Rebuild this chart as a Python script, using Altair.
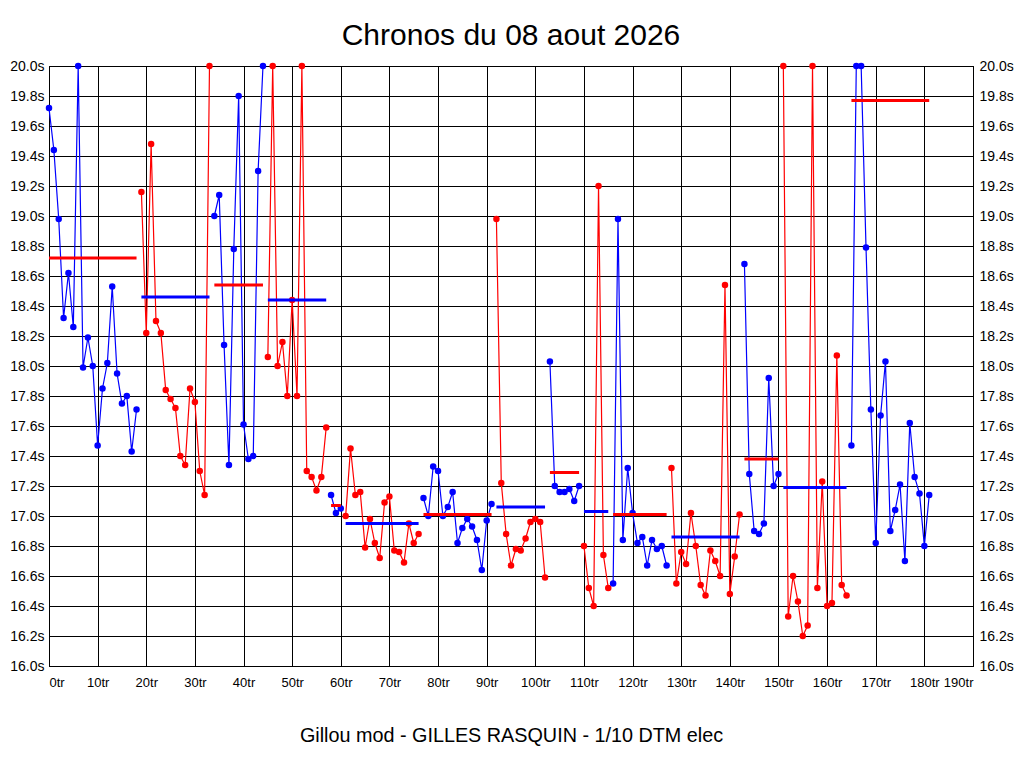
import altair as alt
import pandas as pd

# lap times (s) per run, consecutive laps starting at lap 0
run_01 = [19.72, 19.44, 18.98, 18.32, 18.62, 18.26, 20.0, 17.99, 18.19, 18.0, 17.47, 17.85, 18.02, 18.53, 17.95, 17.75, 17.80, 17.43, 17.71]
run_02 = [19.16, 18.22, 19.48, 18.30, 18.22, 17.84, 17.78, 17.72, 17.40, 17.34, 17.85, 17.76, 17.30, 17.14, 20.0]
run_03 = [19.00, 19.14, 18.14, 17.34, 18.78, 19.80, 17.61, 17.38, 17.40, 19.30, 20.0]
run_04 = [18.06, 20.0, 18.00, 18.16, 17.80, 18.44, 17.80, 20.0, 17.30, 17.26, 17.17, 17.26, 17.59]
run_05 = [17.14, 17.02, 17.05]
run_06 = [17.00, 17.45, 17.14, 17.16, 16.79, 16.98, 16.82, 16.72, 17.09, 17.13, 16.77, 16.76, 16.69, 16.95, 16.82, 16.88]
run_07 = [17.12, 17.00, 17.33, 17.30, 17.00, 17.06, 17.16, 16.82, 16.92, 16.98, 16.93, 16.84, 16.64, 16.97, 17.08]
run_08 = [18.98, 17.22, 16.88, 16.67, 16.78, 16.77, 16.85, 16.96, 16.98, 16.96, 16.59]
run_09 = [18.03, 17.20, 17.16, 17.16, 17.18, 17.10, 17.20]
run_10 = [16.80, 16.52, 16.40, 19.20, 16.74, 16.52]
run_11 = [16.55, 18.98, 16.84, 17.32, 17.02, 16.82, 16.86, 16.67, 16.84, 16.78, 16.80, 16.67]
run_12 = [17.32, 16.55, 16.76, 16.68, 17.02, 16.80, 16.54, 16.47, 16.77, 16.70, 16.60, 18.54, 16.48, 16.73, 17.01]
run_13 = [18.68, 17.28, 16.90, 16.88, 16.95, 17.92, 17.20, 17.28]
run_14 = [20.0, 16.33, 16.60, 16.43, 16.20, 16.27, 20.0, 16.52, 17.23, 16.40, 16.42, 18.07, 16.54, 16.47]
run_15 = [17.47, 20.0, 20.0, 18.79, 17.71, 16.82, 17.67, 18.03, 16.90, 17.04, 17.21, 16.70, 17.62, 17.26, 17.15, 16.80, 17.14]

runs = [run_01, run_02, run_03, run_04, run_05, run_06, run_07, run_08,
        run_09, run_10, run_11, run_12, run_13, run_14, run_15]

# mean line of each run (s)
run_means = [18.72, 18.46, 18.54, 18.44, 17.07, 16.95, 17.01, 17.06,
             17.29, 17.03, 17.01, 16.86, 17.38, 17.19, 19.77]

x_ticks = [0, 10, 20, 30, 40, 50, 60, 70, 80, 90, 100, 110, 120, 130, 140, 150, 160, 170, 180, 190]
y_ticks = [16.0, 16.2, 16.4, 16.6, 16.8, 17.0, 17.2, 17.4, 17.6, 17.8, 18.0,
           18.2, 18.4, 18.6, 18.8, 19.0, 19.2, 19.4, 19.6, 19.8, 20.0]

title_text = "Chronos du 08 aout 2026"
footer_text = "Gillou mod - GILLES RASQUIN - 1/10 DTM elec"

BLUE = "#0000FF"
RED = "#FF0000"

pt_rows = []
mean_rows = []
lap = 0
for i, r in enumerate(runs):
    kind = "b" if i % 2 == 0 else "r"
    mkind = "r" if kind == "b" else "b"
    start = lap
    for t in r:
        pt_rows.append({"lap": lap, "time": t, "run": i, "kind": kind})
        lap += 1
    mean_rows.append({"start": start, "end": lap - 1, "mean": run_means[i], "kind": mkind})

pts = pd.DataFrame(pt_rows)
means = pd.DataFrame(mean_rows)

FONT = "Liberation Sans"
color_scale = alt.Scale(domain=["b", "r"], range=[BLUE, RED])
x_scale = alt.Scale(domain=[0, 190], nice=False, zero=False)
y_scale = alt.Scale(domain=[16, 20], nice=False, zero=False)

x_enc = alt.X("lap:Q", scale=x_scale,
              axis=alt.Axis(values=x_ticks, labelExpr="datum.value + 'tr'", grid=True,
                            gridColor="black", gridOpacity=1, gridWidth=1,
                            domainColor="black", ticks=False, tickSize=0, labelPadding=10,
                            labelFont=FONT, labelFontSize=13, labelColor="black",
                            labelOverlap=False,
                            title=footer_text, titleFont=FONT, titleFontSize=19.8,
                            titleFontWeight="normal", titleColor="black", titlePadding=36))

y_left = alt.Axis(values=y_ticks, labelExpr="format(datum.value, '.1f') + 's'", grid=True,
                  gridColor="black", gridOpacity=1, gridWidth=1, domainColor="black",
                  ticks=False, tickSize=0, labelPadding=5, labelFont=FONT, labelFontSize=14,
                  labelColor="black", title=None, orient="left")
y_right = alt.Axis(values=y_ticks, labelExpr="format(datum.value, '.1f') + 's'", grid=False,
                   domainColor="black", ticks=False, tickSize=0, labelPadding=6,
                   labelFont=FONT, labelFontSize=14, labelColor="black", title=None,
                   orient="right")

lines = alt.Chart(pts).mark_line(strokeWidth=1.2).encode(
    x=x_enc,
    y=alt.Y("time:Q", scale=y_scale, axis=y_left),
    color=alt.Color("kind:N", scale=color_scale, legend=None),
    detail="run:N",
)

points = alt.Chart(pts).mark_circle(size=42, opacity=1).encode(
    x=alt.X("lap:Q", scale=x_scale),
    y=alt.Y("time:Q", scale=y_scale, axis=None),
    color=alt.Color("kind:N", scale=color_scale, legend=None),
)

rules = alt.Chart(means).mark_rule(strokeWidth=3).encode(
    x=alt.X("start:Q", scale=x_scale),
    x2="end:Q",
    y=alt.Y("mean:Q", scale=y_scale, axis=None),
    color=alt.Color("kind:N", scale=color_scale, legend=None),
)

right_axis = alt.Chart(pts).mark_point(opacity=0).encode(
    x=alt.X("lap:Q", scale=x_scale),
    y=alt.Y("time:Q", scale=y_scale, axis=y_right),
)

chart = alt.layer(lines, points, rules, right_axis).resolve_axis(
    y="independent"
).properties(
    width=924,
    height=600,
    title=alt.TitleParams(title_text, font=FONT, fontSize=30, fontWeight="normal",
                          color="black", anchor="middle", baseline="alphabetic", offset=-16),
    autosize=alt.AutoSizeParams(type="none"),
    padding={"left": 41, "top": 58, "right": 43, "bottom": 90},
    background="white",
).configure_view(stroke="black", strokeWidth=1)

chart.save("out.html", embed_options={"renderer": "svg", "actions": False})
